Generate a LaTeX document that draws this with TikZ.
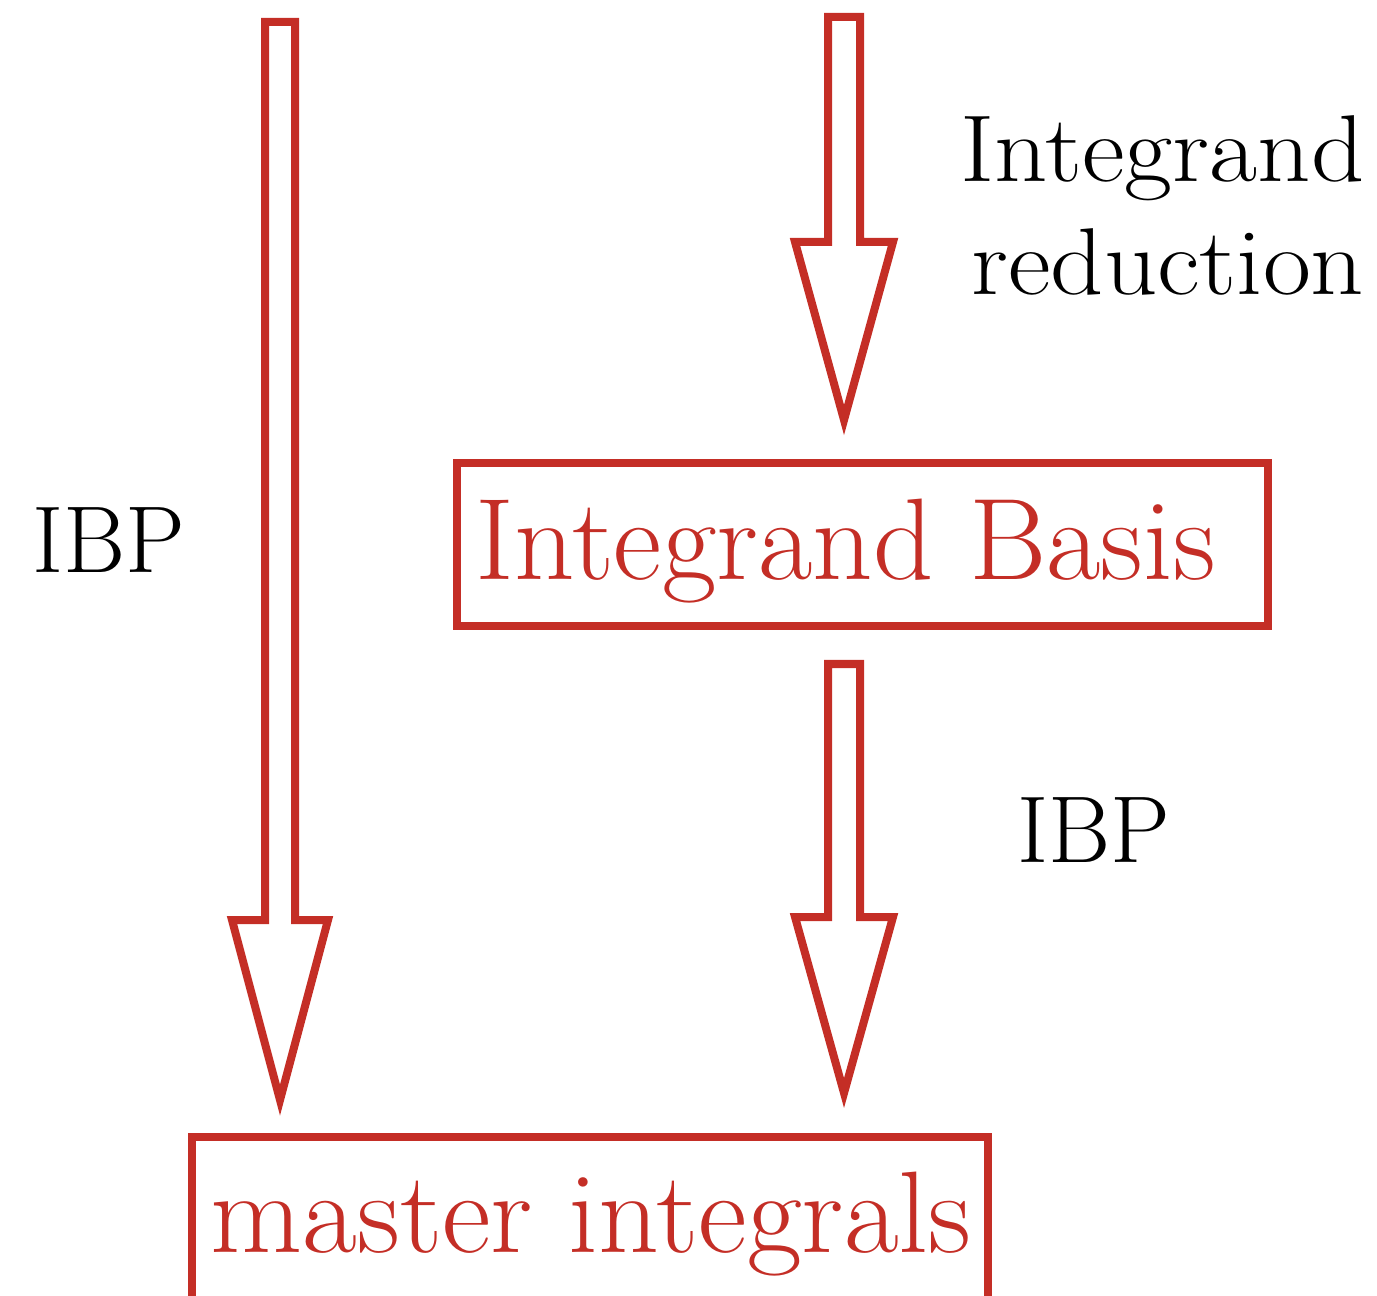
\documentclass[tikz,border=0pt]{standalone}
\usetikzlibrary{calc}
\definecolor{arrred}{RGB}{196,46,38}
\newcommand\hollowarrow[5]{%
  \draw[blockarr] ($(#1)+(-#4,0)$) -- ($(#2)+(-#4,-#3)$) -- ($(#2)+(-#5,-#3)$) -- (#2)
    -- ($(#2)+(#5,-#3)$) -- ($(#2)+(#4,-#3)$) -- ($(#1)+(#4,0)$) -- cycle;}
\begin{document}
\begin{tikzpicture}[x=0.01cm,y=-0.01cm,
  blockarr/.style={draw=arrred,line width=0.08cm,line join=miter,miter limit=10},
  boxline/.style={draw=arrred,line width=0.08cm},
  blacklabel/.style={inner sep=0pt,font=\fontsize{27}{32}\selectfont,text=black},
  redlabel/.style={inner sep=0pt,font=\fontsize{33}{40}\selectfont,text=arrred}]
\useasboundingbox (0,0) rectangle (1377,1295);
\clip (0,0) rectangle (1377,1295);
% coordinates of the arrows
\coordinate (a1s) at (280,22);
\coordinate (a1t) at (280,1100);
\coordinate (a2s) at (844,17);
\coordinate (a2t) at (844,420);
\coordinate (a3s) at (844,664);
\coordinate (a3t) at (844,1093);
\hollowarrow{a1s}{a1t}{180}{15}{48}
\hollowarrow{a2s}{a2t}{178}{16}{49}
\hollowarrow{a3s}{a3t}{176}{16}{49}
% boxes
\node[boxline,minimum width=811*0.01cm,minimum height=163*0.01cm,inner sep=0pt] (basisbox) at (862.5,544.5) {};
\coordinate (mbl) at (192,1320);
\coordinate (mbr) at (988,1320);
\draw[boxline,line join=miter] (mbl) -- (192,1137) -- (988,1137) -- (mbr);
% texts
\node[redlabel,anchor=base west] (basis) at (475,579) {\scalebox{1.02}[1]{Integrand Basis}};
\node[redlabel,anchor=base west] (master) at (210,1252) {\scalebox{1.027}[1]{master integrals}};
\node[blacklabel,anchor=base east] (intl1) at (1365,182) {\scalebox{1.1}[1]{Integrand}};
\node[blacklabel,anchor=base east] (intl2) at (1365,295) {\scalebox{1.1}[1]{reduction}};
\node[blacklabel,anchor=base west] (ibpl) at (32,572) {IBP};
\node[blacklabel,anchor=base west] (ibpr) at (1017,862) {IBP};
\end{tikzpicture}
\end{document}
